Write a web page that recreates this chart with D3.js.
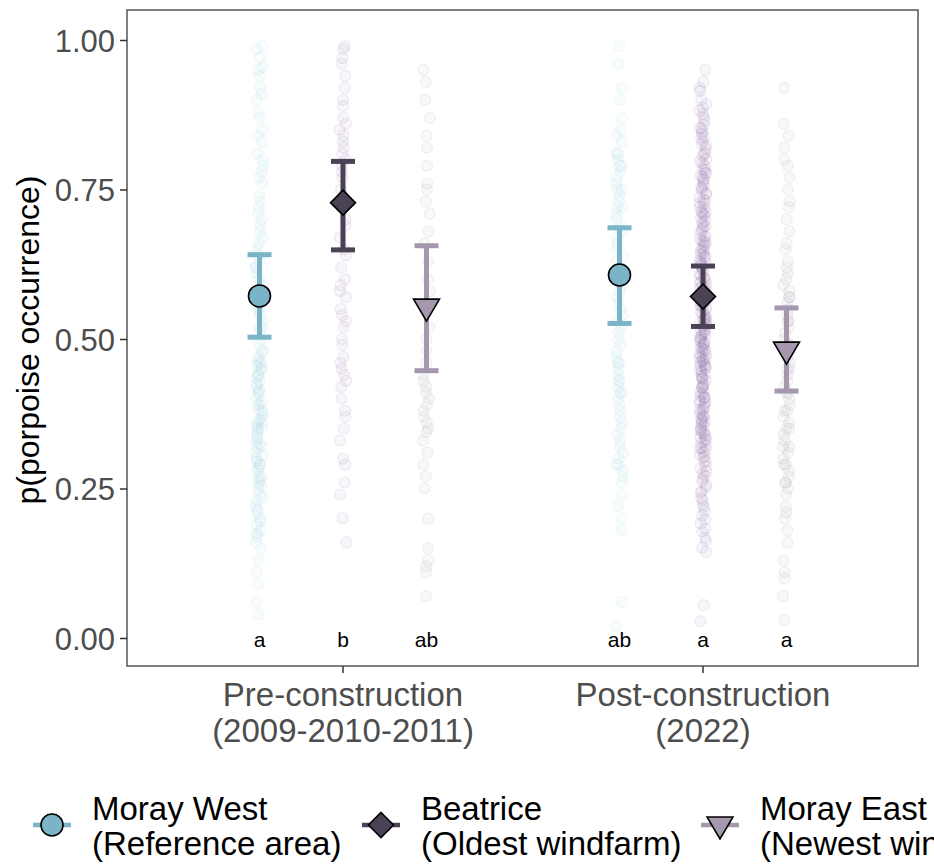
<!DOCTYPE html>
<html><head><meta charset="utf-8">
<script src="https://cdn.jsdelivr.net/npm/d3@7"></script>
<style>body{margin:0;background:#fff;overflow:hidden}svg{display:block}</style>
</head><body>
<script>
// ---- data ----
const periods = ["Pre-construction", "Post-construction"];
const periodLabels = [["Pre-construction", "(2009-2010-2011)"], ["Post-construction", "(2022)"]];
const sites = ["Moray West", "Beatrice", "Moray East"];
const siteLabels = [["Moray West", "(Reference area)"], ["Beatrice", "(Oldest windfarm)"], ["Moray East", "(Newest windfarm)"]];
const siteColors = ["#7AB4C6", "#4B4256", "#A597AE"];
const rawColors = ["#7FC0D2", "#7A4E94", "#7E7892"];
const yTicks = [0, 0.25, 0.5, 0.75, 1.0];

// model estimates per period (order: Moray West, Beatrice, Moray East)
const estPre = [0.572, 0.728, 0.550];
const lowPre = [0.503, 0.649, 0.447];
const highPre = [0.641, 0.797, 0.656];
const estPost = [0.607, 0.571, 0.478];
const lowPost = [0.526, 0.521, 0.413];
const highPost = [0.686, 0.622, 0.552];
const lettersPre = ["a", "b", "ab"];
const lettersPost = ["ab", "a", "a"];

const rawPreMW = [0.99,0.985,0.97,0.95,0.94,0.92,0.90,0.88,0.87,0.85,0.83,0.81,0.80,0.78,0.77,0.76,0.74,0.73,0.71,0.70,0.69,0.68,0.66,0.65,0.64,0.63,0.62,0.61,0.60,0.59,0.58,0.57,0.56,0.55,0.54,0.53,0.52,0.51,0.50,0.49,0.48,0.47,0.465,0.46,0.45,0.44,0.43,0.425,0.42,0.41,0.40,0.395,0.39,0.38,0.37,0.365,0.36,0.35,0.34,0.335,0.33,0.32,0.31,0.30,0.295,0.29,0.28,0.27,0.26,0.25,0.24,0.23,0.22,0.21,0.20,0.19,0.18,0.17,0.16,0.15,0.13,0.11,0.09,0.06,0.04,0.46,0.44,0.41,0.38,0.35,0.32,0.29,0.45,0.36,0.27,0.48,0.455,0.435,0.415,0.39,0.375,0.355,0.345,0.325,0.305,0.285,0.265,0.255,0.235,0.215,0.195,0.175,0.62,0.58,0.55,0.52,0.67,0.72,0.79,0.84,0.91,0.955];
const rawPreBE = [0.99,0.985,0.97,0.96,0.94,0.92,0.90,0.89,0.87,0.85,0.84,0.82,0.81,0.80,0.78,0.77,0.75,0.73,0.72,0.70,0.69,0.67,0.65,0.64,0.62,0.60,0.59,0.57,0.55,0.54,0.52,0.50,0.49,0.47,0.46,0.44,0.43,0.42,0.40,0.38,0.37,0.35,0.33,0.30,0.29,0.26,0.24,0.20,0.16,0.86,0.83,0.79,0.74,0.58,0.53,0.45];
const rawPreME = [0.95,0.93,0.90,0.87,0.84,0.82,0.79,0.76,0.75,0.73,0.71,0.68,0.66,0.63,0.60,0.58,0.55,0.52,0.50,0.48,0.46,0.44,0.43,0.41,0.40,0.39,0.37,0.36,0.35,0.33,0.31,0.29,0.27,0.25,0.20,0.15,0.13,0.12,0.11,0.07,0.42,0.38,0.345];
const rawPostMW = [0.99,0.96,0.92,0.90,0.87,0.85,0.84,0.83,0.81,0.80,0.79,0.78,0.77,0.76,0.75,0.74,0.73,0.72,0.71,0.70,0.69,0.68,0.67,0.66,0.65,0.64,0.63,0.62,0.61,0.60,0.59,0.58,0.57,0.56,0.55,0.54,0.53,0.52,0.51,0.50,0.49,0.48,0.47,0.46,0.45,0.44,0.43,0.42,0.41,0.40,0.39,0.38,0.37,0.36,0.35,0.34,0.33,0.32,0.31,0.30,0.29,0.28,0.27,0.26,0.24,0.22,0.20,0.18,0.06,0.02,0.81,0.79,0.75,0.72,0.46,0.43,0.41,0.29];
const rawPostBE = [0.95,0.93,0.92,0.915,0.90,0.893,0.887,0.882,0.876,0.871,0.866,0.858,0.853,0.847,0.843,0.836,0.831,0.826,0.818,0.812,0.806,0.801,0.794,0.789,0.784,0.777,0.771,0.765,0.761,0.754,0.748,0.744,0.737,0.731,0.726,0.719,0.714,0.709,0.703,0.698,0.692,0.687,0.681,0.676,0.671,0.664,0.659,0.652,0.647,0.642,0.637,0.631,0.626,0.621,0.614,0.609,0.603,0.598,0.592,0.588,0.581,0.577,0.571,0.566,0.561,0.554,0.549,0.544,0.538,0.533,0.528,0.522,0.517,0.512,0.506,0.501,0.496,0.491,0.486,0.481,0.476,0.471,0.466,0.461,0.456,0.451,0.446,0.441,0.436,0.431,0.425,0.418,0.411,0.405,0.397,0.391,0.384,0.376,0.369,0.362,0.355,0.347,0.341,0.333,0.326,0.318,0.311,0.302,0.294,0.287,0.279,0.271,0.262,0.252,0.243,0.231,0.219,0.205,0.192,0.178,0.163,0.144,0.055,0.028,0.773,0.752,0.728,0.711,0.689,0.667,0.645,0.623,0.602,0.584,0.563,0.541,0.527,0.509,0.493,0.478,0.463,0.449,0.433,0.421,0.408,0.394,0.386,0.372,0.358,0.345,0.331,0.317,0.304,0.663,0.641,0.618,0.596,0.572,0.556,0.535,0.515,0.498,0.483,0.468,0.453,0.401,0.367,0.338,0.852,0.838,0.824,0.809,0.797,0.783,0.768,0.757,0.742,0.733,0.721,0.706,0.695,0.684,0.672,0.661,0.649,0.638,0.628,0.617,0.606,0.594,0.586,0.574,0.563,0.552,0.543,0.531,0.524,0.513,0.503,0.494,0.484,0.474,0.463,0.455,0.444,0.434,0.423,0.413,0.402,0.393,0.381,0.372,0.361,0.352,0.343,0.336,0.322,0.314,0.307,0.296,0.284,0.275,0.266,0.256,0.245,0.234,0.224,0.212,0.198,0.183,0.168,0.151,0.778,0.712,0.656,0.627,0.585,0.557,0.532,0.507,0.488,0.469,0.457,0.438,0.419,0.403,0.382,0.364,0.349,0.327];
const rawPostME = [0.92,0.86,0.84,0.82,0.80,0.79,0.77,0.75,0.73,0.72,0.70,0.68,0.66,0.65,0.63,0.62,0.60,0.59,0.58,0.57,0.56,0.55,0.54,0.53,0.52,0.51,0.50,0.49,0.48,0.47,0.46,0.45,0.44,0.43,0.42,0.41,0.40,0.39,0.38,0.37,0.36,0.35,0.34,0.33,0.32,0.31,0.30,0.29,0.28,0.27,0.26,0.25,0.24,0.22,0.21,0.20,0.18,0.16,0.13,0.11,0.10,0.07,0.03,0.61,0.57,0.53,0.49,0.45,0.41,0.38,0.35,0.32,0.29,0.26];

// ---- build ----
const W = 934, H = 866;
const panel = {left: 127, right: 918, top: 10, bottom: 666};
const svg = d3.select("body").append("svg").attr("width", W).attr("height", H)
  .style("font-family", "'Liberation Sans', Arial, sans-serif");

const y = d3.scaleLinear().domain([0, 1]).range([638, 40]);
const x = d3.scaleBand().domain(periods).range([163, 883]).padding(0);
const dodge = d3.scalePoint().domain(sites).range([-83.5, 83.5]);
const xc = (p) => x(p) + x.bandwidth() / 2;
const xs = (p, s) => xc(p) + dodge(s);

const est = [estPre, estPost], low = [lowPre, lowPost], high = [highPre, highPost], letters = [lettersPre, lettersPost];
const raw = [[rawPreMW, rawPreBE, rawPreME], [rawPostMW, rawPostBE, rawPostME]];

const g = svg.append("g");
const jit = (i, k) => { const v = Math.sin((i + 1) * 12.9898 + k * 78.233) * 43758.5453; return (v - Math.floor(v) - 0.5) * 7; };

// raw points
periods.forEach((p, pi) => {
  sites.forEach((s, si) => {
    g.append("g").selectAll("circle").data(raw[pi][si]).join("circle")
      .attr("cx", (d, i) => xs(p, s) + jit(i, pi * 3 + si))
      .attr("cy", d => y(d))
      .attr("r", 5.5)
      .attr("fill", rawColors[si]).attr("fill-opacity", 0.05)
      .attr("stroke", rawColors[si]).attr("stroke-opacity", 0.1).attr("stroke-width", 1.2);
  });
});

// error bars
const capW = 12;
periods.forEach((p, pi) => {
  sites.forEach((s, si) => {
    const cx = xs(p, s), col = siteColors[si];
    g.append("line").attr("x1", cx).attr("x2", cx).attr("y1", y(low[pi][si])).attr("y2", y(high[pi][si]))
      .attr("stroke", col).attr("stroke-width", 5);
    [low[pi][si], high[pi][si]].forEach(v => {
      g.append("line").attr("x1", cx - capW).attr("x2", cx + capW).attr("y1", y(v)).attr("y2", y(v))
        .attr("stroke", col).attr("stroke-width", 5);
    });
  });
});

// markers
function marker(sel, si, cx, cy) {
  if (si === 0) {
    sel.append("circle").attr("cx", cx).attr("cy", cy).attr("r", 11)
      .attr("fill", siteColors[0]).attr("stroke", "#000").attr("stroke-width", 1.6);
  } else if (si === 1) {
    const r = 12.5;
    sel.append("path").attr("d", `M${cx},${cy - r}L${cx + r},${cy}L${cx},${cy + r}L${cx - r},${cy}Z`)
      .attr("fill", siteColors[1]).attr("stroke", "#000").attr("stroke-width", 1.6);
  } else {
    const hw = 13, top = cy - 10, bot = cy + 12;
    sel.append("path").attr("d", `M${cx - hw},${top}L${cx + hw},${top}L${cx},${bot}Z`)
      .attr("fill", siteColors[2]).attr("stroke", "#000").attr("stroke-width", 1.6).attr("stroke-linejoin", "miter");
  }
}
periods.forEach((p, pi) => {
  sites.forEach((s, si) => marker(g, si, xs(p, s), y(est[pi][si])));
});

// letters
periods.forEach((p, pi) => {
  sites.forEach((s, si) => {
    g.append("text").attr("x", xs(p, s)).attr("y", y(0) + 9).attr("text-anchor", "middle")
      .attr("font-size", 21).attr("fill", "#000").text(letters[pi][si]);
  });
});

// panel border
svg.append("rect").attr("x", panel.left).attr("y", panel.top)
  .attr("width", panel.right - panel.left).attr("height", panel.bottom - panel.top)
  .attr("fill", "none").attr("stroke", "#555").attr("stroke-width", 1.5);

// y axis
const yAxis = svg.append("g").attr("transform", `translate(${panel.left},0)`)
  .call(d3.axisLeft(y).tickValues(yTicks).tickFormat(d3.format(".2f")).tickSize(7).tickPadding(5));
yAxis.select(".domain").remove();
yAxis.selectAll(".tick line").attr("stroke", "#333").attr("stroke-width", 1.5);
yAxis.selectAll(".tick text").attr("fill", "#4D4D4D").attr("font-size", 31)
  .attr("font-family", "'Liberation Sans', Arial, sans-serif").attr("dy", "0.36em");

// x axis
const xAxis = svg.append("g").attr("transform", `translate(0,${panel.bottom})`)
  .call(d3.axisBottom(x).tickSize(7).tickFormat(""));
xAxis.select(".domain").remove();
xAxis.selectAll(".tick line").attr("stroke", "#333").attr("stroke-width", 1.5);
periods.forEach((p, pi) => {
  const t = svg.append("text").attr("x", xc(p)).attr("y", 706).attr("text-anchor", "middle")
    .attr("font-size", 33).attr("fill", "#4D4D4D");
  periodLabels[pi].forEach((l, li) => t.append("tspan").attr("x", xc(p)).attr("dy", li ? 36 : 0).text(l));
});

// y title
svg.append("text").attr("transform", `translate(39,340) rotate(-90)`).attr("text-anchor", "middle")
  .attr("font-size", 32).attr("fill", "#000").text("p(porpoise occurrence)");

// legend
const legX = [33, 362, 701];
sites.forEach((s, si) => {
  const lg = svg.append("g");
  const kx = legX[si], ky = 825;
  lg.append("line").attr("x1", kx).attr("x2", kx + 38).attr("y1", ky).attr("y2", ky)
    .attr("stroke", siteColors[si]).attr("stroke-width", 4.5);
  marker(lg, si, kx + 19, si === 2 ? ky + 2 : ky);
  const t = lg.append("text").attr("x", kx + 59).attr("y", 820).attr("font-size", 33).attr("fill", "#000");
  siteLabels[si].forEach((l, li) => t.append("tspan").attr("x", kx + 59).attr("dy", li ? 35 : 0).text(l));
});
</script>
</body></html>
